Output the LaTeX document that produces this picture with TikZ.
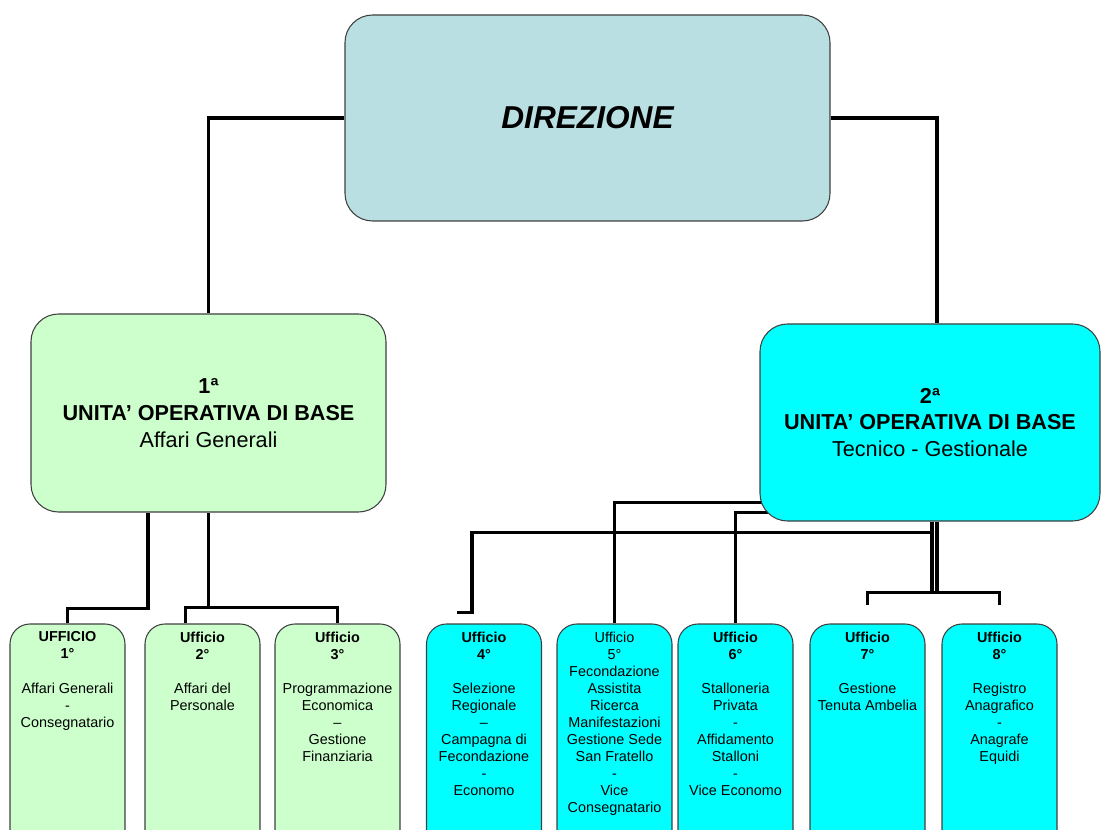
\documentclass[tikz,border=0pt]{standalone}
\usepackage{fontspec}
\setmainfont{Liberation Sans}
\usetikzlibrary{positioning,backgrounds}
\definecolor{dircol}{HTML}{B9DFE2}
\definecolor{verde}{HTML}{CCFFCC}
\definecolor{ciano}{HTML}{00FFFF}
\definecolor{bordo}{HTML}{404040}

\begin{document}
\begin{tikzpicture}[
	box/.style={draw=bordo, line width=0.6pt, rounded corners=0.55cm, inner sep=0},
	uob/.style={box, minimum height=3.96cm, align=center, font=\fontsize{12.3}{15.3}\selectfont},
	uff/.style={box, rounded corners=0.4cm, minimum width=2.3cm, minimum height=4.6cm},
	testo/.style={inner sep=0, align=center, font=\fontsize{8.2}{9.7}\selectfont},
	conn/.style={line width=1.8pt}
]
\useasboundingbox (0,0) rectangle (22.04,-16.6);
\clip (0,0) rectangle (22.04,-16.6);

\node[box, fill=dircol, minimum width=9.7cm, minimum height=4.12cm,
	font=\fontsize{18}{21}\selectfont\bfseries\itshape] (direz) at (11.75,-2.36) {DIREZIONE};

\node[uob, fill=verde, minimum width=7.1cm] (uob1) at (4.17,-8.26)
	{\textbf{1ª}\\\textbf{UNITA’ OPERATIVA DI BASE}\\Affari Generali};
\node[uob, fill=ciano, minimum width=6.8cm, minimum height=3.94cm] (uob2) at (18.6,-8.45)
	{\textbf{2ª}\\\textbf{UNITA’ OPERATIVA DI BASE}\\Tecnico - Gestionale};

\node[uff, fill=verde] (u1) at (1.35,-14.78) {};
\node[uff, fill=verde] (u2) at (4.05,-14.78) {};
\node[uff, fill=verde, minimum width=2.5cm] (u3) at (6.75,-14.78) {};
\node[uff, fill=ciano] (u4) at (9.68,-14.78) {};
\node[uff, fill=ciano] (u5) at (12.29,-14.78) {};
\node[uff, fill=ciano] (u6) at (14.71,-14.78) {};
\node[uff, fill=ciano] (u7) at (17.35,-14.78) {};
\node[uff, fill=ciano] (u8) at (19.99,-14.78) {};

\node[testo, below=0.16cm of u1.north] (t1)
	{\textbf{UFFICIO}\\\textbf{1°}\\[9.7pt]Affari Generali\\-\\Consegnatario};
\node[testo, below=0.16cm of u2.north] (t2)
	{\textbf{Ufficio}\\\textbf{2°}\\[9.7pt]Affari del\\Personale};
\node[testo, below=0.16cm of u3.north] (t3)
	{\textbf{Ufficio}\\\textbf{3°}\\[9.7pt]Programmazione\\Economica\\–\\Gestione\\Finanziaria};
\node[testo, below=0.16cm of u4.north] (t4)
	{\textbf{Ufficio}\\\textbf{4°}\\[9.7pt]Selezione\\Regionale\\–\\Campagna di\\Fecondazione\\-\\Economo};
\node[testo, below=0.16cm of u5.north] (t5)
	{Ufficio\\5°\\Fecondazione\\Assistita\\Ricerca\\Manifestazioni\\Gestione Sede\\San Fratello\\-\\Vice\\Consegnatario};
\node[testo, below=0.16cm of u6.north] (t6)
	{\textbf{Ufficio}\\\textbf{6°}\\[9.7pt]Stalloneria\\Privata\\-\\Affidamento\\Stalloni\\-\\Vice Economo};
\node[testo, below=0.16cm of u7.north] (t7)
	{\textbf{Ufficio}\\\textbf{7°}\\[9.7pt]Gestione\\Tenuta Ambelia};
\node[testo, below=0.16cm of u8.north] (t8)
	{\textbf{Ufficio}\\\textbf{8°}\\[9.7pt]Registro\\Anagrafico\\-\\Anagrafe\\Equidi};

\begin{scope}[on background layer]
\draw[conn] (direz.west) -| (uob1.north);
\draw[conn] (direz.east) -| ([xshift=0.14cm]uob2.north);
\draw[conn] ([xshift=-1.21cm]uob1.south) -- ++(0,-1.92) -| (u1.north);
\draw[conn] (uob1.south) -- ++(0,-1.9) coordinate (j1);
\draw[conn] ([xshift=-0.34cm]u2.north) |- (j1) -| (u3.north);
\draw[conn] ([yshift=0.38cm]uob2.south) -| (u5.north);
\draw[conn] ([yshift=0.18cm]uob2.south) -| (u6.north);
\draw[conn] ([xshift=0.04cm]uob2.south) -- ++(0,-0.22) -| ([xshift=-0.24cm,yshift=0.22cm]u4.north) -- ++(-0.3,0);
\draw[conn] ([xshift=0.04cm]uob2.south) -- ++(0,-1.42);
\draw[conn] ([xshift=0.14cm]uob2.south) -- ++(0,-1.42) coordinate (j2);
\draw[conn] ([yshift=0.36cm]u7.north) |- (j2) -| ([yshift=0.36cm]u8.north);
\end{scope}
\end{tikzpicture}
\end{document}
